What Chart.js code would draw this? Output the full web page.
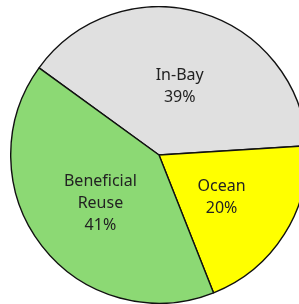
<!DOCTYPE html>
<html><head><meta charset="utf-8">
<script src="https://cdn.jsdelivr.net/npm/chart.js@4/dist/chart.umd.min.js"></script>
<style>
html,body{margin:0;padding:0;background:#fff;overflow:hidden;width:299px;height:304px;}
#wrap{position:absolute;left:10px;top:6px;width:298px;height:298px;}
</style></head>
<body>
<div id="wrap"><canvas id="c" width="298" height="298"></canvas></div>
<script>
const categories = ["In-Bay", "Ocean", "Beneficial Reuse"];
const labelLines = [["In-Bay"], ["Ocean"], ["Beneficial", "Reuse"]];
const values = [39, 20, 41];
const colors = ["#e0e0e0", "#ffff00", "#8cd974"];

const labelPlugin = {
  id: 'sliceLabels',
  afterDatasetsDraw(chart) {
    const ctx = chart.ctx;
    const meta = chart.getDatasetMeta(0);
    const total = values.reduce((a, b) => a + b, 0);
    ctx.save();
    ctx.fillStyle = '#222';
    ctx.font = '16px "Noto Sans"';
    ctx.textAlign = 'center';
    ctx.textBaseline = 'middle';
    meta.data.forEach((arc, i) => {
      const p = arc.tooltipPosition();
      const lines = labelLines[i].concat([Math.round(values[i] / total * 100) + '%']);
      const lh = 22;
      const y0 = p.y + 3 - (lines.length - 1) * lh / 2;
      lines.forEach((t, j) => ctx.fillText(t, p.x, y0 + j * lh));
    });
    ctx.restore();
  }
};

new Chart(document.getElementById('c'), {
  type: 'pie',
  data: {
    labels: categories,
    datasets: [{
      data: values,
      backgroundColor: colors,
      borderColor: '#111',
      borderWidth: 1.4
    }]
  },
  options: {
    responsive: false,
    animation: false,
    rotation: -54,
    layout: { padding: 0 },
    plugins: { legend: { display: false }, tooltip: { enabled: false } }
  },
  plugins: [labelPlugin]
});
</script>
</body></html>
